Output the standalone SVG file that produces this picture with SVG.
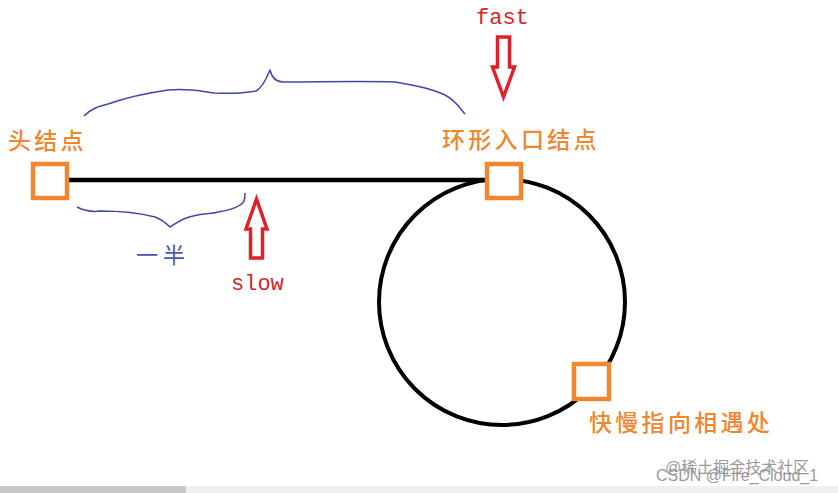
<svg xmlns="http://www.w3.org/2000/svg" width="838" height="493" viewBox="0 0 838 493">
<style>
.node{fill:none;stroke:#f0862d;stroke-width:4.5}
.lbl{font-family:"Noto Sans CJK SC","Noto Sans",sans-serif;font-size:23px;font-weight:500;fill:#f0862d;letter-spacing:3.3px}
.ptr{font-family:"Liberation Mono","DejaVu Sans Mono",monospace;font-size:22px;fill:#d8242c}
.arrow{fill:none;stroke:#e0202a;stroke-width:3.5;stroke-linejoin:miter}
.brace{fill:none;stroke:#3f48a8;stroke-width:1.5;stroke-linejoin:round}
.wm{font-family:"Liberation Sans","Noto Sans CJK SC",sans-serif;font-size:16px;fill:#8a8a8a;opacity:0.85}
</style>
<rect width="838" height="493" fill="#ffffff"/>
<g id="connectors">
<line x1="69" y1="180" x2="490" y2="180" stroke="#000" stroke-width="4.5"/>
<circle cx="502" cy="302" r="123" fill="none" stroke="#000" stroke-width="4"/>
</g>
<g id="head">
<rect class="node" x="33" y="164" width="34" height="34"/>
<text class="lbl" x="8" y="149">头结点</text>
</g>
<g id="entry">
<rect class="node" x="487" y="164" width="34" height="34" style="fill:#fff"/>
<text class="lbl" x="442" y="148">环形入口结点</text>
</g>
<g id="meet">
<rect class="node" x="574" y="364" width="35" height="35" style="fill:#fff"/>
<text class="lbl" x="589" y="431">快慢指向相遇处</text>
</g>
<g id="fast">
<text class="ptr" x="476" y="24">fast</text>
<path class="arrow" d="M497.5 37 H509.5 V67 H514.5 L503.5 97 L492.5 67 H497.5 Z"/>
</g>
<g id="slow">
<text class="ptr" x="231" y="290">slow</text>
<path class="arrow" d="M256.5 199 L267 229 H262.5 V258 H250.5 V229 H246 Z"/>
</g>
<g id="braces">
<path class="brace" d="M84 116 C92 108 100 106 108 104 C125 98 140 94 168 90 C190 88 205 92 215 93 C235 94 245 93 256 91 C262 88 266 80 270 70 C272 78 276 82 283 82 C320 82 360 81 395 82 C420 86 435 90 445 95 C455 100 460 108 465 114"/>
<path class="brace" d="M77 207 C85 211 93 212 100 211 C120 211 140 213 155 217 C163 220 167 224 170 227 C175 224 182 218 193 216 C205 213 212 214 218 212 C230 210 236 208 240 205 C244 203 245 200 245 193"/>
<text x="136" y="263" font-family="'Noto Sans CJK SC',sans-serif" font-size="22" fill="#4a55b5" letter-spacing="5">一半</text>
</g>
<g id="watermark">
<text class="wm" x="665" y="473">@稀土掘金技术社区</text>
<text class="wm" x="656" y="481">CSDN @Fire_Cloud_1</text>
</g>
<rect x="0" y="486" width="838" height="7" fill="#f0f0f0"/>
<rect x="0" y="486" width="186" height="7" fill="#c8c8c8"/>
</svg>
